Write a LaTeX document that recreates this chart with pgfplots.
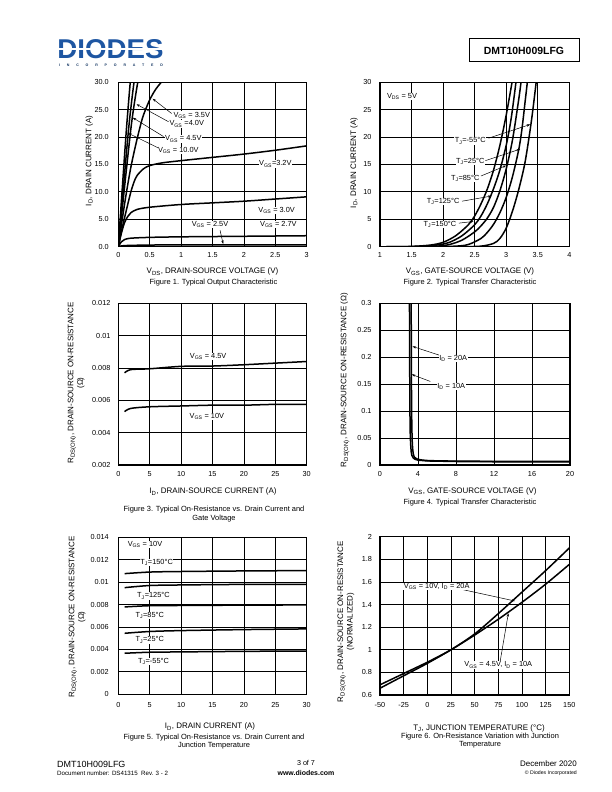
\documentclass[border=0pt]{standalone}
\usepackage{fontspec}
\setmainfont{Liberation Sans}
\usepackage{graphicx}
\usepackage{pgfplots}
\pgfplotsset{compat=1.18}
\usetikzlibrary{arrows.meta}
\definecolor{diodesblue}{RGB}{30,86,162}
\newcommand{\sub}[1]{\textsubscript{#1}}
\pgfplotsset{
  dsaxis/.style={
    set layers=standard,
    scale only axis,
    anchor=south west,
    axis line style={line width=1.1bp},
    grid=major,
    major grid style={line width=0.8bp, black},
    major tick length=0pt,
    tick label style={font=\fontsize{7.3}{8}\selectfont},
    /pgf/number format/assume math mode=true,
    every axis plot post/.append style={line width=1.5bp, black, solid, mark=none},
    clip=true,
  },
}
\tikzset{
  lbl/.style={fill=white, inner sep=0.5bp, font=\fontsize{7.4}{8}\selectfont},
  arr/.style={-{Stealth[length=3.5bp,width=2.4bp]}, line width=0.5bp},
  axl/.style={font=\fontsize{8}{8.6}\selectfont, align=center, inner sep=0pt},
  figcap/.style={font=\fontsize{7.5}{8.3}\selectfont, align=center, inner sep=0pt},
}
\begin{document}
\begin{tikzpicture}
\path (0bp,0bp) rectangle (612bp,792bp);
\begin{scope}[x=1bp,y=1bp]
% header
\node[inner sep=0pt, text=diodesblue] at (110.5,742.5) {\resizebox{106bp}{19bp}{\bfseries DIODES}};
\draw[white, line width=1.2bp] (55,743) -- (166,743);
\node[inner sep=0pt, text=diodesblue!60!black, font=\fontsize{3.6}{4}\selectfont\bfseries\addfontfeatures{LetterSpace=190}] at (111,726.5)
  {INCORPORATED};
\draw[line width=1bp] (469,730) rectangle (579,753);
\node[font=\fontsize{10.5}{12}\selectfont\bfseries, inner sep=0pt] at (524,741.5) {DMT10H009LFG};
% footer
\node[anchor=west, inner sep=0pt, font=\fontsize{9}{10}\selectfont] at (57,28) {DMT10H009LFG};
\node[anchor=west, inner sep=0pt, font=\fontsize{6.2}{7}\selectfont] at (57,18.5) {Document number: DS41315~~Rev. 3 - 2};
\node[inner sep=0pt, font=\fontsize{7.2}{8}\selectfont] at (306,29) {3 of 7};
\node[inner sep=0pt, font=\fontsize{7}{8}\selectfont\bfseries] at (306,19) {www.diodes.com};
\node[anchor=east, inner sep=0pt, font=\fontsize{8}{9}\selectfont] at (577,28) {December 2020};
\node[anchor=east, inner sep=0pt, font=\fontsize{5.2}{6}\selectfont] at (577,19) {© Diodes Incorporated};
% axis labels and captions
\node[axl] at (212.5,520.3) {V\sub{DS}, DRAIN-SOURCE VOLTAGE (V)};
\node[figcap] at (213.5,509.7) {Figure 1. Typical Output Characteristic};
\node[axl, rotate=90] at (89.3,631) {I\sub{D}, DRAIN CURRENT (A)};
\node[axl] at (470,520.3) {V\sub{GS}, GATE-SOURCE VOLTAGE (V)};
\node[figcap] at (470,509.7) {Figure 2. Typical Transfer Characteristic};
\node[axl, rotate=90] at (354,629) {I\sub{D}, DRAIN CURRENT (A)};
\node[axl, rotate=90] at (76.2,409) {R\sub{DS(ON)}, DRAIN-SOURCE ON-RESISTANCE\\(Ω)};
\node[axl] at (213,300.3) {I\sub{D}, DRAIN-SOURCE CURRENT (A)};
\node[figcap] at (214,277.8) {Figure 3. Typical On-Resistance vs. Drain Current and\\Gate Voltage};
\node[axl, rotate=90] at (345,412) {R\sub{DS(ON)}, DRAIN-SOURCE ON-RESISTANCE (Ω)};
\node[axl] at (472.5,301) {V\sub{GS}, GATE-SOURCE VOLTAGE (V)};
\node[figcap] at (470,289.7) {Figure 4. Typical Transfer Characteristic};
\node[axl, rotate=90] at (77.2,175) {R\sub{DS(ON)}, DRAIN-SOURCE ON-RESISTANCE\\(Ω)};
\node[axl] at (210,65.3) {I\sub{D}, DRAIN CURRENT (A)};
\node[figcap] at (214,50.5) {Figure 5. Typical On-Resistance vs. Drain Current and\\Junction Temperature};
\node[axl, rotate=90] at (345.9,170.3) {R\sub{DS(ON)}, DRAIN-SOURCE ON-RESISTANCE\\(NORMALIZED)};
\node[axl] at (479,63.7) {T\sub{J}, JUNCTION TEMPERATURE (°C)};
\node[figcap] at (480,51.1) {Figure 6. On-Resistance Variation with Junction\\Temperature};
\end{scope}

% ---------------- Figure 1
\begin{axis}[dsaxis, at={(118.3bp,545.3bp)}, width=188.4bp, height=164.4bp,
  xmin=0, xmax=3, ymin=0, ymax=30,
  xtick={0,0.5,...,3}, ytick={0,5,...,30},
  xticklabel shift=2bp, yticklabel shift=6bp,
  yticklabel style={/pgf/number format/.cd, fixed, fixed zerofill, precision=1},
  xticklabel style={/pgf/number format/.cd, fixed, precision=1}]
\addplot[smooth] coordinates {(0,0) (0.12,20) (0.19,30)};
\addplot[smooth] coordinates {(0,0) (0.16,21) (0.25,30)};
\addplot[smooth] coordinates {(0,0) (0.2,21.5) (0.31,30)};
\addplot[smooth] coordinates {(0,0) (0.05,4) (0.1,7.8) (0.15,11.3) (0.2,14.5) (0.25,17.2) (0.3,19.7) (0.35,22) (0.4,24) (0.5,26.8) (0.6,28.8) (0.7,30.2)};
\addplot[smooth] coordinates {(0,0) (0.05,2.8) (0.1,5.3) (0.15,7.7) (0.2,10) (0.25,11.8) (0.3,13) (0.4,14.2) (0.5,14.8) (0.7,15.3) (1,15.7) (1.5,16.3) (2,16.9) (2.5,17.6) (3,18.4)};
\addplot[smooth] coordinates {(0,0) (0.05,2.5) (0.1,4.4) (0.15,5.5) (0.2,6.2) (0.3,6.8) (0.5,7.2) (1,7.7) (1.5,8.0) (2,8.3) (2.5,8.7) (3,9.1)};
\addplot[smooth] coordinates {(0,0) (0.05,0.9) (0.1,1.3) (0.2,1.55) (0.5,1.7) (1,1.8) (2,1.9) (3,2.0)};
\addplot[smooth] coordinates {(0,0) (0.1,0.2) (0.5,0.3) (1,0.32) (3,0.35)};
\draw[arr] (axis cs:0.85,24.3) -- (axis cs:0.547,27.0);
\draw[arr] (axis cs:0.8,22.8) -- (axis cs:0.29,26.0);
\draw[arr] (axis cs:0.72,20.1) -- (axis cs:0.23,23.55);
\draw[arr] (axis cs:0.65,17.95) -- (axis cs:0.16,20.7);
\draw[arr] (axis cs:1.62,3.0) -- (axis cs:1.67,0.5);
\node[lbl] at (axis cs:1.17,24.0) {V\sub{GS} = 3.5V};
\node[lbl] at (axis cs:1.09,22.4) {V\sub{GS} =4.0V};
\node[lbl] at (axis cs:1.035,19.65) {V\sub{GS} = 4.5V};
\node[lbl] at (axis cs:0.955,17.6) {V\sub{GS} = 10.0V};
\node[lbl] at (axis cs:2.5,15.1) {V\sub{GS}=3.2V};
\node[lbl] at (axis cs:2.52,6.6) {V\sub{GS} = 3.0V};
\node[lbl] at (axis cs:2.55,4.0) {V\sub{GS} = 2.7V};
\node[lbl] at (axis cs:1.46,4.0) {V\sub{GS} = 2.5V};
\end{axis}

% ---------------- Figure 2
\begin{axis}[dsaxis, at={(380bp,545.3bp)}, width=189.3bp, height=164.4bp,
  xmin=1, xmax=4, ymin=0, ymax=30,
  xtick={1,1.5,...,4}, ytick={0,5,...,30},
  xticklabel shift=2bp, yticklabel shift=5bp,
  xticklabel style={/pgf/number format/.cd, fixed, precision=1}]
\addplot[smooth] coordinates {(1.1,0) (1.5,0.05) (1.8,0.3) (2.0,0.8) (2.2,2.0) (2.4,4.0) (2.5,5.6) (2.6,7.8) (2.7,10.5) (2.8,14) (2.9,18.5) (3.0,24) (3.1,30.5)};
\addplot[smooth] coordinates {(1.1,0) (1.6,0.05) (1.9,0.3) (2.1,0.8) (2.3,2.0) (2.5,4.0) (2.6,5.6) (2.7,7.8) (2.8,10.6) (2.9,14) (3.0,18.5) (3.08,23.5) (3.16,30.5)};
\addplot[smooth] coordinates {(1.5,0) (1.9,0.1) (2.1,0.4) (2.3,1.2) (2.5,2.7) (2.6,3.8) (2.7,5.2) (2.8,7.2) (2.9,10.2) (3.0,14.2) (3.1,19.5) (3.2,27) (3.24,30.5)};
\addplot[smooth] coordinates {(1.8,0) (2.2,0.1) (2.4,0.4) (2.6,1.5) (2.7,2.6) (2.8,4.1) (2.9,6.2) (3.0,9.0) (3.1,12.8) (3.2,17.8) (3.25,21.5) (3.3,26.5) (3.34,30.5)};
\addplot[smooth] coordinates {(2.3,0) (2.6,0.1) (2.8,0.6) (2.9,1.5) (3.0,3.4) (3.1,6.5) (3.2,10.5) (3.3,15.5) (3.4,23) (3.48,30.5)};
\draw[arr] (axis cs:2.72,19.8) -- (axis cs:3.38,22.3);
\draw[arr] (axis cs:2.67,15.7) -- (axis cs:3.22,17.8);
\draw[arr] (axis cs:2.6,12.9) -- (axis cs:3.0,14.8);
\draw[arr] (axis cs:2.3,8.3) -- (axis cs:2.77,9.25);
\draw[arr] (axis cs:2.25,4.3) -- (axis cs:2.48,4.6);
\node[lbl, anchor=west] at (axis cs:1.1,27.4) {V\sub{DS} = 5V};
\node[lbl] at (axis cs:2.43,19.3) {T\sub{J}=-55°C};
\node[lbl] at (axis cs:2.43,15.5) {T\sub{J}=25°C};
\node[lbl] at (axis cs:2.35,12.5) {T\sub{J}=85°C};
\node[lbl] at (axis cs:2.0,8.2) {T\sub{J}=125°C};
\node[lbl] at (axis cs:1.95,4.1) {T\sub{J}=150°C};
\end{axis}

% ---------------- Figure 3
\begin{axis}[dsaxis, at={(118.3bp,327bp)}, width=188.4bp, height=161.7bp,
  xmin=0, xmax=30, ymin=0.002, ymax=0.012,
  xtick={0,5,...,30}, ytick={0.002,0.004,0.006,0.008,0.01,0.012},
  scaled y ticks=false,
  xticklabel shift=2.5bp, yticklabel shift=4.4bp,
  yticklabel style={/pgf/number format/.cd, fixed, precision=3}]
\addplot[smooth] coordinates {(1,0.0077) (2,0.0079) (5,0.00795) (10,0.0081) (15,0.00812) (20,0.0082) (25,0.0083) (30,0.0084)};
\addplot[smooth] coordinates {(1,0.0053) (2,0.0055) (5,0.0056) (10,0.00565) (15,0.0057) (20,0.0057) (25,0.00575) (30,0.00575)};
\node[lbl] at (axis cs:14.3,0.0087) {V\sub{GS} = 4.5V};
\node[lbl] at (axis cs:14.1,0.0050) {V\sub{GS} = 10V};
\end{axis}

% ---------------- Figure 4
\begin{axis}[dsaxis, at={(380bp,327bp)}, width=190bp, height=161.7bp,
  xmin=0, xmax=20, ymin=0, ymax=0.3,
  xtick={0,4,...,20}, ytick={0,0.05,0.1,0.15,0.2,0.25,0.3},
  scaled y ticks=false,
  xticklabel shift=3bp, yticklabel shift=5bp,
  yticklabel style={/pgf/number format/.cd, fixed, precision=2}]
\addplot[sharp plot] coordinates {(3.28,0.31) (3.3,0.2) (3.32,0.12) (3.35,0.07) (3.4,0.04) (3.45,0.028) (3.5,0.021) (3.6,0.015) (3.8,0.012) (4,0.0105) (4.5,0.009) (5,0.0083) (6,0.0077) (8,0.0072) (12,0.0068) (16,0.0066) (20,0.0065)};
\addplot[sharp plot] coordinates {(3.1,0.31) (3.12,0.2) (3.15,0.1) (3.18,0.06) (3.22,0.04) (3.28,0.025) (3.35,0.018) (3.5,0.013) (3.7,0.0105) (4,0.009) (5,0.0075) (8,0.0065) (12,0.006) (20,0.0057)};
\draw[arr] (axis cs:6.2,0.204) -- (axis cs:3.42,0.22);
\draw[arr] (axis cs:5.3,0.155) -- (axis cs:3.34,0.168);
\node[lbl] at (axis cs:7.7,0.198) {I\sub{D} = 20A};
\node[lbl] at (axis cs:7.5,0.145) {I\sub{D} = 10A};
\end{axis}

% ---------------- Figure 5
\begin{axis}[dsaxis, at={(118.3bp,97.7bp)}, width=188.4bp, height=157bp,
  xmin=0, xmax=30, ymin=0, ymax=0.014,
  xtick={0,5,...,30}, ytick={0,0.002,0.004,0.006,0.008,0.01,0.012,0.014},
  scaled y ticks=false,
  xticklabel shift=4.4bp, yticklabel shift=6bp,
  yticklabel style={/pgf/number format/.cd, fixed, precision=3}]
\addplot[smooth] coordinates {(1,0.01076) (5,0.0109) (10,0.01095) (20,0.0110) (30,0.01103)};
\addplot[smooth] coordinates {(1,0.00951) (5,0.0097) (10,0.00975) (20,0.0098) (30,0.00981)};
\addplot[smooth] coordinates {(1,0.00779) (5,0.0079) (10,0.00792) (20,0.00795) (30,0.00797)};
\addplot[smooth] coordinates {(1,0.00544) (5,0.0056) (10,0.00568) (20,0.00577) (30,0.00583)};
\addplot[smooth] coordinates {(1,0.00366) (5,0.00375) (10,0.00378) (20,0.00383) (30,0.00386)};
\node[lbl] at (axis cs:4.25,0.01338) {V\sub{GS} = 10V};
\node[lbl] at (axis cs:6.1,0.01177) {T\sub{J}=150°C};
\node[lbl] at (axis cs:5.6,0.00877) {T\sub{J}=125°C};
\node[lbl] at (axis cs:5.0,0.00701) {T\sub{J}=85°C};
\node[lbl] at (axis cs:5.0,0.00484) {T\sub{J}=25°C};
\node[lbl] at (axis cs:5.6,0.00291) {T\sub{J}=-55°C};
\end{axis}

% ---------------- Figure 6
\begin{axis}[dsaxis, at={(380bp,97bp)}, width=189.3bp, height=158.3bp,
  xmin=-50, xmax=150, ymin=0.6, ymax=2,
  xtick={-50,-25,...,150}, ytick={0.6,0.8,1,1.2,1.4,1.6,1.8,2},
  xticklabel shift=4.4bp, yticklabel shift=4.5bp]
\addplot[smooth] coordinates {(-50,0.66) (-25,0.77) (0,0.88) (25,1.0) (50,1.14) (75,1.32) (100,1.51) (125,1.70) (150,1.90)};
\addplot[smooth] coordinates {(-50,0.69) (-25,0.79) (0,0.89) (25,1.0) (50,1.13) (75,1.27) (100,1.42) (125,1.58) (150,1.755)};
\draw[arr] (axis cs:33,1.54) -- (axis cs:92.6,1.431);
\draw[arr] (axis cs:77,0.9) -- (axis cs:85.6,1.323);
\node[lbl] at (axis cs:9.9,1.558) {V\sub{GS} = 10V, I\sub{D} = 20A};
\node[lbl] at (axis cs:75,0.866) {V\sub{GS} = 4.5V, I\sub{D} = 10A};
\end{axis}
\end{tikzpicture}
\end{document}
